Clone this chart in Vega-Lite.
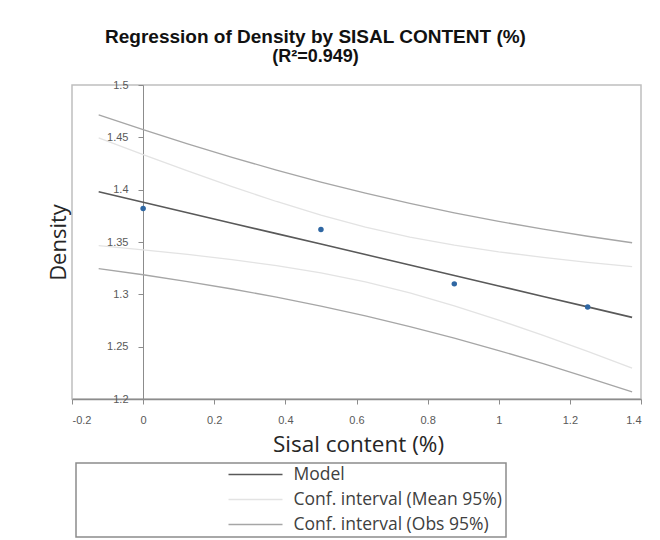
{
  "$schema": "https://vega.github.io/schema/vega-lite/v6.json",
  "width": 569,
  "height": 314,
  "autosize": {"type": "none"},
  "padding": {"left": 72, "top": 85, "right": 19, "bottom": 141},
  "background": "white",
  "title": {
    "text": "Regression of Density by SISAL CONTENT (%)",
    "subtitle": "(R²=0.949)",
    "anchor": "middle",
    "dx": -41,
    "offset": 13,
    "font": "Liberation Sans",
    "fontSize": 19,
    "fontWeight": "bold",
    "color": "#111111",
    "subtitleFont": "Liberation Sans",
    "subtitleFontSize": 18,
    "subtitleFontWeight": "bold",
    "subtitleColor": "#111111",
    "subtitlePadding": 1
  },
  "datasets": {
    "bands": [
      {"x": -0.125, "fit": 1.398, "mlo": 1.3466, "mhi": 1.4494, "olo": 1.3246, "ohi": 1.4714},
      {"x": 0, "fit": 1.388, "mlo": 1.3425, "mhi": 1.4335, "olo": 1.3187, "ohi": 1.4574},
      {"x": 0.125, "fit": 1.378, "mlo": 1.3381, "mhi": 1.4179, "olo": 1.3122, "ohi": 1.4438},
      {"x": 0.25, "fit": 1.368, "mlo": 1.3332, "mhi": 1.4029, "olo": 1.3051, "ohi": 1.4309},
      {"x": 0.375, "fit": 1.358, "mlo": 1.3274, "mhi": 1.3887, "olo": 1.2973, "ohi": 1.4187},
      {"x": 0.5, "fit": 1.348, "mlo": 1.3204, "mhi": 1.3756, "olo": 1.2888, "ohi": 1.4072},
      {"x": 0.625, "fit": 1.338, "mlo": 1.3118, "mhi": 1.3642, "olo": 1.2794, "ohi": 1.3966},
      {"x": 0.75, "fit": 1.328, "mlo": 1.3013, "mhi": 1.3547, "olo": 1.2692, "ohi": 1.3868},
      {"x": 0.875, "fit": 1.318, "mlo": 1.289, "mhi": 1.347, "olo": 1.2582, "ohi": 1.3779},
      {"x": 1.0, "fit": 1.308, "mlo": 1.2754, "mhi": 1.3406, "olo": 1.2463, "ohi": 1.3697},
      {"x": 1.125, "fit": 1.298, "mlo": 1.2607, "mhi": 1.3353, "olo": 1.2337, "ohi": 1.3623},
      {"x": 1.25, "fit": 1.288, "mlo": 1.2454, "mhi": 1.3306, "olo": 1.2205, "ohi": 1.3555},
      {"x": 1.375, "fit": 1.278, "mlo": 1.2296, "mhi": 1.3264, "olo": 1.2067, "ohi": 1.3493}
    ],
    "obs": [
      {"x": 0, "density": 1.382},
      {"x": 0.5, "density": 1.362},
      {"x": 0.875, "density": 1.31},
      {"x": 1.25, "density": 1.288}
    ]
  },
  "encoding": {
    "x": {
      "field": "x",
      "type": "quantitative",
      "scale": {"domain": [-0.2, 1.4], "nice": false, "zero": false},
      "axis": {
        "values": [-0.2, 0, 0.2, 0.4, 0.6, 0.8, 1, 1.2, 1.4],
        "labelExpr": "datum.value < 0 ? '-' + format(-datum.value, '.2~g') : format(datum.value, '.2~g')",
        "grid": false,
        "domainColor": "#8c8c8c",
        "domainWidth": 1.5,
        "tickColor": "#8c8c8c",
        "tickSize": 5,
        "labelFont": "Liberation Sans",
        "labelFontSize": 11,
        "labelColor": "#595959",
        "labelPadding": 10,
        "title": "Sisal content (%)",
        "titleFont": "Open Sans",
        "titleFontSize": 22.5,
        "titleFontWeight": "normal",
        "titleColor": "#262626",
        "titleX": 286,
        "titleY": 45,
        "titleAlign": "center",
        "titleBaseline": "middle"
      }
    }
  },
  "layer": [
    {
      "data": {"name": "bands"},
      "mark": {"type": "line", "strokeWidth": 1.3},
      "encoding": {
        "y": {
          "field": "mlo",
          "type": "quantitative",
          "scale": {"domain": [1.2, 1.5], "nice": false, "zero": false},
          "axis": {
            "offset": -71,
            "values": [1.2, 1.25, 1.3, 1.35, 1.4, 1.45, 1.5],
            "format": ".3~g",
            "grid": false,
            "domainColor": "#8c8c8c",
            "tickColor": "#8c8c8c",
            "tickSize": 5,
            "labelFont": "Liberation Sans",
            "labelFontSize": 11,
            "labelColor": "#595959",
            "labelPadding": 10,
            "title": "Density",
            "titleFont": "Open Sans",
            "titleFontSize": 22,
            "titleFontWeight": "normal",
            "titleColor": "#262626",
            "titleAngle": 270,
            "titleX": -85,
            "titleY": 157,
            "titleAlign": "center",
            "titleBaseline": "middle"
          }
        },
        "stroke": {"datum": "Conf. interval (Mean 95%)"}
      }
    },
    {
      "data": {"name": "bands"},
      "mark": {"type": "line", "strokeWidth": 1.3},
      "encoding": {
        "y": {"field": "mhi", "type": "quantitative", "title": "Density"},
        "stroke": {"datum": "Conf. interval (Mean 95%)"}
      }
    },
    {
      "data": {"name": "bands"},
      "mark": {"type": "line", "strokeWidth": 1.3},
      "encoding": {
        "y": {"field": "olo", "type": "quantitative", "title": "Density"},
        "stroke": {"datum": "Conf. interval (Obs 95%)"}
      }
    },
    {
      "data": {"name": "bands"},
      "mark": {"type": "line", "strokeWidth": 1.3},
      "encoding": {
        "y": {"field": "ohi", "type": "quantitative", "title": "Density"},
        "stroke": {"datum": "Conf. interval (Obs 95%)"}
      }
    },
    {
      "data": {"name": "bands"},
      "mark": {"type": "line", "strokeWidth": 1.6},
      "encoding": {
        "y": {"field": "fit", "type": "quantitative", "title": "Density"},
        "stroke": {
          "datum": "Model",
          "scale": {
            "domain": ["Model", "Conf. interval (Mean 95%)", "Conf. interval (Obs 95%)"],
            "range": ["#595959", "#e3e3e3", "#a6a6a6"]
          },
          "legend": {
            "orient": "none",
            "legendX": 4,
            "legendY": 378,
            "title": null,
            "symbolType": "stroke",
            "symbolSize": 2916,
            "symbolStrokeWidth": 1.5,
            "symbolOffset": 148,
            "clipHeight": 16,
            "rowPadding": 7,
            "labelOffset": 10,
            "labelFont": "Open Sans",
            "labelFontSize": 17.5,
            "labelColor": "#404040",
            "labelLimit": 600,
            "padding": 3.5,
            "strokeColor": "#8c8c8c",
            "fillColor": "white"
          }
        }
      }
    },
    {
      "data": {"name": "obs"},
      "mark": {"type": "point", "filled": true, "size": 30, "opacity": 1},
      "encoding": {
        "y": {"field": "density", "type": "quantitative", "title": "Density"},
        "color": {"value": "#2f67a3"}
      }
    }
  ],
  "config": {
    "view": {"stroke": "#bfbfbf", "strokeWidth": 1.5},
    "legend": {"strokeWidth": 1.5}
  }
}
